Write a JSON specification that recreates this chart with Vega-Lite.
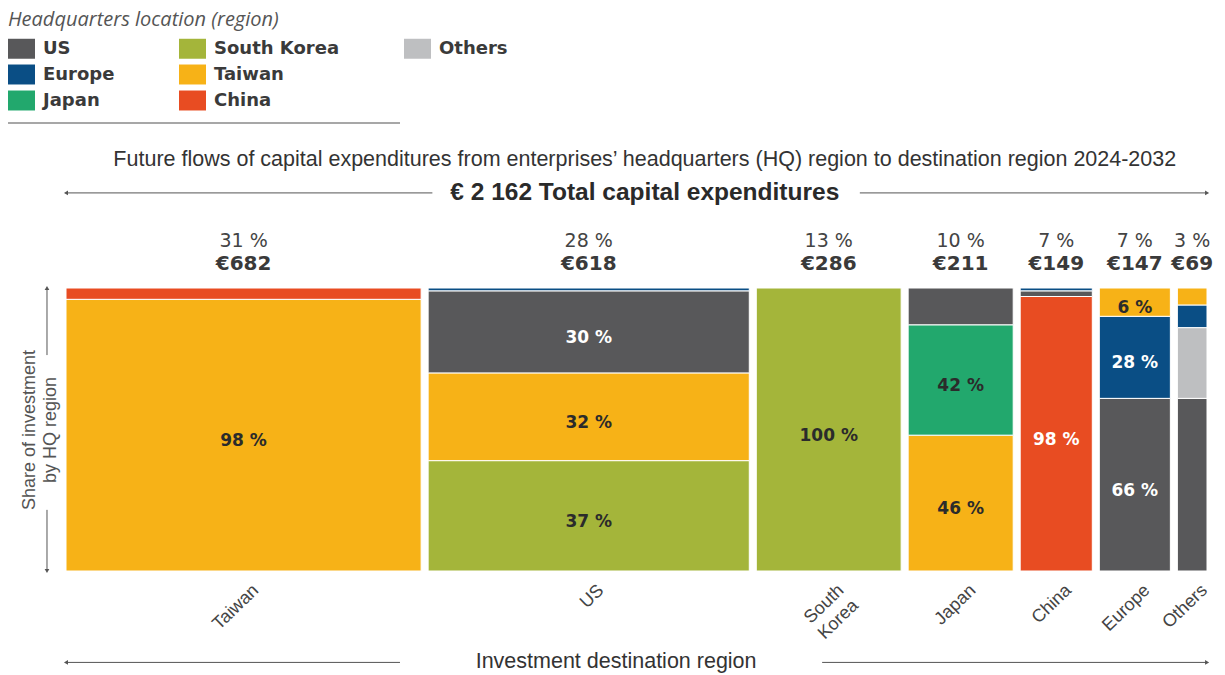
{
  "$schema": "https://vega.github.io/schema/vega-lite/v6.json",
  "width": 1148,
  "height": 283,
  "autosize": {"type": "none"},
  "padding": {"left": 66, "top": 288, "right": 11, "bottom": 104},
  "background": "white",
  "config": {"view": {"stroke": null}, "axis": {"disable": true}},
  "data": {
    "values": [
      {"dest": "Taiwan", "order": 1, "total": 682, "pct": "31 %", "amt": "€682", "hq": ["Taiwan", "China"], "share": [96, 4], "lbl": ["98 %", ""]},
      {"dest": "US", "order": 2, "total": 618, "pct": "28 %", "amt": "€618", "hq": ["South Korea", "Taiwan", "US", "Europe"], "share": [39, 31, 29, 1], "lbl": ["37 %", "32 %", "30 %", ""]},
      {"dest": "South Korea", "order": 3, "total": 286, "pct": "13 %", "amt": "€286", "hq": ["South Korea"], "share": [100], "lbl": ["100 %"]},
      {"dest": "Japan", "order": 4, "total": 211, "pct": "10 %", "amt": "€211", "hq": ["Taiwan", "Japan", "US"], "share": [48, 39, 13], "lbl": ["46 %", "42 %", ""]},
      {"dest": "China", "order": 5, "total": 149, "pct": "7 %", "amt": "€149", "hq": ["China", "US", "Europe"], "share": [97, 2, 1], "lbl": ["98 %", "", ""]},
      {"dest": "Europe", "order": 6, "total": 147, "pct": "7 %", "amt": "€147", "hq": ["US", "Europe", "Taiwan"], "share": [61, 29, 10], "lbl": ["66 %", "28 %", "6 %"]},
      {"dest": "Others", "order": 7, "total": 69, "pct": "3 %", "amt": "€69", "hq": ["US", "Others", "Europe", "Taiwan"], "share": [61, 25, 8, 6], "lbl": ["", "", "", ""]}
    ]
  },
  "layer": [
    {
      "transform": [
        {"stack": "total", "groupby": [], "sort": [{"field": "order", "order": "ascending"}], "as": ["x0", "x1"]},
        {"flatten": ["hq", "share", "lbl"]},
        {"stack": "share", "groupby": ["dest"], "as": ["y0", "y1"]}
      ],
      "mark": {"type": "rect", "x2Offset": -7, "stroke": "white", "strokeWidth": 1},
      "encoding": {
        "x": {"field": "x0", "type": "quantitative", "scale": {"domain": [0, 2162], "nice": false, "zero": false}, "axis": null},
        "x2": {"field": "x1"},
        "y": {"field": "y0", "type": "quantitative", "scale": {"domain": [0, 100], "nice": false, "zero": false}, "axis": null},
        "y2": {"field": "y1"},
        "color": {
          "field": "hq", "type": "nominal",
          "scale": {
            "domain": ["US", "Europe", "Japan", "South Korea", "Taiwan", "China", "Others", " "],
            "range": ["#58585a", "#0a4e85", "#22a86d", "#a4b53a", "#f7b217", "#e84c22", "#bebfc1", "rgba(255,255,255,0)"]
          },
          "legend": {
            "title": "Headquarters location (region)",
            "orient": "none", "legendX": -58, "legendY": -278, "direction": "vertical",
            "columns": 3, "columnPadding": 64, "rowPadding": 2,
            "titleFont": "Open Sans", "titleFontStyle": "italic", "titleFontWeight": "normal", "titleFontSize": 20, "titleColor": "#555555", "titlePadding": 5, "titleLimit": 500,
            "labelFont": "DejaVu Sans", "labelFontWeight": "bold", "labelFontSize": 18, "labelColor": "#3a3a3a", "labelOffset": 8, "labelLimit": 300,
            "symbolType": "M-1,-0.74H1V0.74H-1Z", "symbolSize": 729, "symbolStrokeWidth": 0, "symbolOpacity": 1
          }
        }
      }
    },
    {
      "transform": [
        {"stack": "total", "groupby": [], "sort": [{"field": "order", "order": "ascending"}], "as": ["x0", "x1"]},
        {"flatten": ["hq", "share", "lbl"]},
        {"stack": "share", "groupby": ["dest"], "as": ["y0", "y1"]},
        {"fold": ["x0", "x1"], "as": ["kx", "xv"]},
        {"aggregate": [{"op": "mean", "field": "xv", "as": "xm"}], "groupby": ["dest", "hq", "lbl", "y0", "y1"]},
        {"fold": ["y0", "y1"], "as": ["ky", "yv"]},
        {"aggregate": [{"op": "mean", "field": "yv", "as": "ym"}], "groupby": ["dest", "hq", "lbl", "xm"]}
      ],
      "mark": {"type": "text", "font": "DejaVu Sans", "fontWeight": "bold", "fontSize": 17, "dx": -3.5, "dy": 6, "baseline": "middle"},
      "encoding": {
        "x": {"field": "xm", "type": "quantitative", "scale": {"domain": [0, 2162], "nice": false, "zero": false}, "axis": null},
        "y": {"field": "ym", "type": "quantitative", "scale": {"domain": [0, 100], "nice": false, "zero": false}, "axis": null},
        "text": {"field": "lbl"},
        "color": {"condition": {"test": "indexof(['US','Europe','China'], datum.hq) >= 0", "value": "white"}, "value": "#2b2b2b"}
      }
    },
    {
      "transform": [
        {"stack": "total", "groupby": [], "sort": [{"field": "order", "order": "ascending"}], "as": ["x0", "x1"]},
        {"fold": ["x0", "x1"], "as": ["kx", "xv"]},
        {"aggregate": [{"op": "mean", "field": "xv", "as": "xm"}], "groupby": ["dest", "pct", "amt"]}
      ],
      "mark": {"type": "text", "font": "DejaVu Sans", "fontSize": 19, "dx": -3.5, "baseline": "middle", "color": "#444444"},
      "encoding": {
        "x": {"field": "xm", "type": "quantitative", "scale": {"domain": [0, 2162], "nice": false, "zero": false}, "axis": null},
        "y": {"datum": 116.6, "type": "quantitative", "scale": {"domain": [0, 100], "nice": false, "zero": false}, "axis": null},
        "text": {"field": "pct"}
      }
    },
    {
      "transform": [
        {"stack": "total", "groupby": [], "sort": [{"field": "order", "order": "ascending"}], "as": ["x0", "x1"]},
        {"fold": ["x0", "x1"], "as": ["kx", "xv"]},
        {"aggregate": [{"op": "mean", "field": "xv", "as": "xm"}], "groupby": ["dest", "pct", "amt"]}
      ],
      "mark": {"type": "text", "font": "DejaVu Sans", "fontWeight": "bold", "fontSize": 20, "dx": -3.5, "baseline": "middle", "color": "#3a3a3a"},
      "encoding": {
        "x": {"field": "xm", "type": "quantitative", "scale": {"domain": [0, 2162], "nice": false, "zero": false}, "axis": null},
        "y": {"datum": 108.5, "type": "quantitative", "scale": {"domain": [0, 100], "nice": false, "zero": false}, "axis": null},
        "text": {"field": "amt"}
      }
    },
    {
      "transform": [
        {"stack": "total", "groupby": [], "sort": [{"field": "order", "order": "ascending"}], "as": ["x0", "x1"]},
        {"fold": ["x0", "x1"], "as": ["kx", "xv"]},
        {"aggregate": [{"op": "mean", "field": "xv", "as": "xm"}], "groupby": ["dest"]}
      ],
      "mark": {"type": "text", "font": "Liberation Sans", "fontSize": 18, "angle": -44, "align": "right", "baseline": "middle", "xOffset": 9, "lineBreak": " ", "lineHeight": 21, "color": "#444444"},
      "encoding": {
        "x": {"field": "xm", "type": "quantitative", "scale": {"domain": [0, 2162], "nice": false, "zero": false}, "axis": null},
        "y": {"datum": -6, "type": "quantitative", "scale": {"domain": [0, 100], "nice": false, "zero": false}, "axis": null},
        "text": {"field": "dest"}
      }
    },
    {
      "data": {"values": [{}]},
      "mark": {"type": "text", "text": "Future flows of capital expenditures from enterprises’ headquarters (HQ) region to destination region 2024-2032", "font": "Liberation Sans", "fontSize": 21.5, "baseline": "middle", "color": "#333333"},
      "encoding": {
        "x": {"datum": 1090, "type": "quantitative", "scale": {"domain": [0, 2162], "nice": false, "zero": false}},
        "y": {"datum": 145.2, "type": "quantitative", "scale": {"domain": [0, 100], "nice": false, "zero": false}}
      }
    },
    {
      "data": {"values": [{}]},
      "mark": {"type": "text", "text": "€ 2 162 Total capital expenditures", "font": "Liberation Sans", "fontWeight": "bold", "fontSize": 24.5, "baseline": "middle", "color": "#2a2a2a"},
      "encoding": {
        "x": {"datum": 1090, "type": "quantitative", "scale": {"domain": [0, 2162], "nice": false, "zero": false}},
        "y": {"datum": 133.6, "type": "quantitative", "scale": {"domain": [0, 100], "nice": false, "zero": false}}
      }
    },
    {
      "data": {"values": [{}]},
      "mark": {"type": "text", "text": "Investment destination region", "font": "Liberation Sans", "fontSize": 21.5, "baseline": "middle", "color": "#333333"},
      "encoding": {
        "x": {"datum": 1036, "type": "quantitative", "scale": {"domain": [0, 2162], "nice": false, "zero": false}},
        "y": {"datum": -32.3, "type": "quantitative", "scale": {"domain": [0, 100], "nice": false, "zero": false}}
      }
    },
    {
      "data": {"values": [{}]},
      "mark": {"type": "text", "text": "Share of investment\nby HQ region", "lineBreak": "\n", "lineHeight": 21, "angle": -90, "font": "Liberation Sans", "fontSize": 18, "align": "center", "baseline": "middle", "color": "#555555"},
      "encoding": {
        "x": {"datum": -67.8, "type": "quantitative", "scale": {"domain": [0, 2162], "nice": false, "zero": false}},
        "y": {"datum": 49.8, "type": "quantitative", "scale": {"domain": [0, 100], "nice": false, "zero": false}}
      }
    },
    {
      "data": {"values": [{}]},
      "mark": {"type": "rule", "color": "#555555", "strokeWidth": 1},
      "encoding": {
        "x": {"datum": 0, "type": "quantitative", "scale": {"domain": [0, 2162], "nice": false, "zero": false}},
        "x2": {"datum": 690},
        "y": {"datum": 133.6, "type": "quantitative", "scale": {"domain": [0, 100], "nice": false, "zero": false}}
      }
    },
    {
      "data": {"values": [{}]},
      "mark": {"type": "rule", "color": "#555555", "strokeWidth": 1},
      "encoding": {
        "x": {"datum": 1495, "type": "quantitative", "scale": {"domain": [0, 2162], "nice": false, "zero": false}},
        "x2": {"datum": 2149},
        "y": {"datum": 133.6, "type": "quantitative", "scale": {"domain": [0, 100], "nice": false, "zero": false}}
      }
    },
    {
      "data": {"values": [{}]},
      "mark": {"type": "rule", "color": "#555555", "strokeWidth": 1},
      "encoding": {
        "x": {"datum": 0, "type": "quantitative", "scale": {"domain": [0, 2162], "nice": false, "zero": false}},
        "x2": {"datum": 629},
        "y": {"datum": -32.3, "type": "quantitative", "scale": {"domain": [0, 100], "nice": false, "zero": false}}
      }
    },
    {
      "data": {"values": [{}]},
      "mark": {"type": "rule", "color": "#555555", "strokeWidth": 1},
      "encoding": {
        "x": {"datum": 1424, "type": "quantitative", "scale": {"domain": [0, 2162], "nice": false, "zero": false}},
        "x2": {"datum": 2149},
        "y": {"datum": -32.3, "type": "quantitative", "scale": {"domain": [0, 100], "nice": false, "zero": false}}
      }
    },
    {
      "data": {"values": [{}]},
      "mark": {"type": "rule", "color": "#555555", "strokeWidth": 1},
      "encoding": {
        "x": {"datum": -35.8, "type": "quantitative", "scale": {"domain": [0, 2162], "nice": false, "zero": false}},
        "y": {"datum": 100, "type": "quantitative", "scale": {"domain": [0, 100], "nice": false, "zero": false}},
        "y2": {"datum": 76.3}
      }
    },
    {
      "data": {"values": [{}]},
      "mark": {"type": "rule", "color": "#555555", "strokeWidth": 1},
      "encoding": {
        "x": {"datum": -35.8, "type": "quantitative", "scale": {"domain": [0, 2162], "nice": false, "zero": false}},
        "y": {"datum": 21.6, "type": "quantitative", "scale": {"domain": [0, 100], "nice": false, "zero": false}},
        "y2": {"datum": 0}
      }
    },
    {
      "data": {"values": [{}]},
      "mark": {"type": "rule", "color": "#8a8a8a", "strokeWidth": 1.5},
      "encoding": {
        "x": {"datum": -109.2, "type": "quantitative", "scale": {"domain": [0, 2162], "nice": false, "zero": false}},
        "x2": {"datum": 629},
        "y": {"datum": 158.3, "type": "quantitative", "scale": {"domain": [0, 100], "nice": false, "zero": false}}
      }
    },
    {
      "data": {"values": [{}]},
      "mark": {"type": "point", "shape": "triangle-left", "filled": true, "size": 22, "color": "#555555", "opacity": 1},
      "encoding": {
        "x": {"datum": 0, "type": "quantitative", "scale": {"domain": [0, 2162], "nice": false, "zero": false}},
        "y": {"datum": 133.6, "type": "quantitative", "scale": {"domain": [0, 100], "nice": false, "zero": false}}
      }
    },
    {
      "data": {"values": [{}]},
      "mark": {"type": "point", "shape": "triangle-right", "filled": true, "size": 22, "color": "#555555", "opacity": 1},
      "encoding": {
        "x": {"datum": 2149, "type": "quantitative", "scale": {"domain": [0, 2162], "nice": false, "zero": false}},
        "y": {"datum": 133.6, "type": "quantitative", "scale": {"domain": [0, 100], "nice": false, "zero": false}}
      }
    },
    {
      "data": {"values": [{}]},
      "mark": {"type": "point", "shape": "triangle-left", "filled": true, "size": 22, "color": "#555555", "opacity": 1},
      "encoding": {
        "x": {"datum": 0, "type": "quantitative", "scale": {"domain": [0, 2162], "nice": false, "zero": false}},
        "y": {"datum": -32.3, "type": "quantitative", "scale": {"domain": [0, 100], "nice": false, "zero": false}}
      }
    },
    {
      "data": {"values": [{}]},
      "mark": {"type": "point", "shape": "triangle-right", "filled": true, "size": 22, "color": "#555555", "opacity": 1},
      "encoding": {
        "x": {"datum": 2149, "type": "quantitative", "scale": {"domain": [0, 2162], "nice": false, "zero": false}},
        "y": {"datum": -32.3, "type": "quantitative", "scale": {"domain": [0, 100], "nice": false, "zero": false}}
      }
    },
    {
      "data": {"values": [{}]},
      "mark": {"type": "point", "shape": "triangle-up", "filled": true, "size": 22, "color": "#555555", "opacity": 1},
      "encoding": {
        "x": {"datum": -35.8, "type": "quantitative", "scale": {"domain": [0, 2162], "nice": false, "zero": false}},
        "y": {"datum": 100, "type": "quantitative", "scale": {"domain": [0, 100], "nice": false, "zero": false}}
      }
    },
    {
      "data": {"values": [{}]},
      "mark": {"type": "point", "shape": "triangle-down", "filled": true, "size": 22, "color": "#555555", "opacity": 1},
      "encoding": {
        "x": {"datum": -35.8, "type": "quantitative", "scale": {"domain": [0, 2162], "nice": false, "zero": false}},
        "y": {"datum": 0, "type": "quantitative", "scale": {"domain": [0, 100], "nice": false, "zero": false}}
      }
    }
  ]
}
